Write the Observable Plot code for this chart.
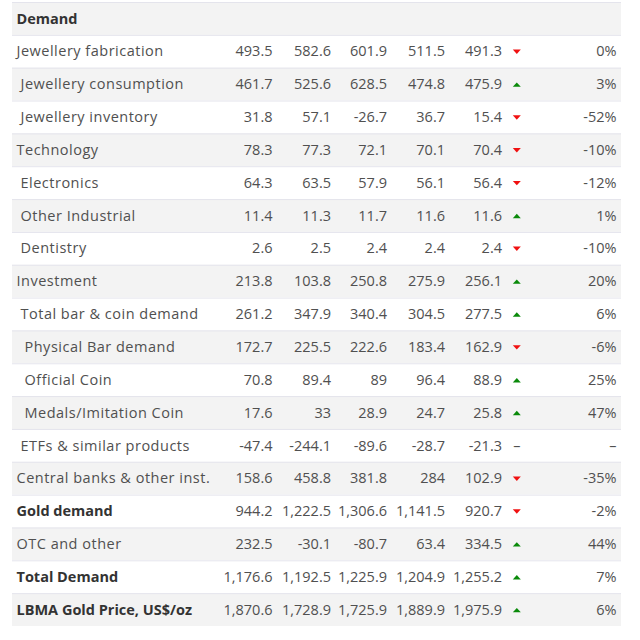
<!DOCTYPE html>
<html><head><meta charset="utf-8">
<script src="https://cdn.jsdelivr.net/npm/d3@7"></script>
<script src="https://cdn.jsdelivr.net/npm/@observablehq/plot@0.6"></script>
<style>body{margin:0;background:#fff;}</style>
</head><body><div id="chart"></div>
<script>
// ---- data ----
const labels = ["Demand","Jewellery fabrication","Jewellery consumption","Jewellery inventory","Technology","Electronics","Other Industrial","Dentistry","Investment","Total bar & coin demand","Physical Bar demand","Official Coin","Medals/Imitation Coin","ETFs & similar products","Central banks & other inst.","Gold demand","OTC and other","Total Demand","LBMA Gold Price, US$/oz"];
const levels = [0,0,1,1,0,1,1,1,0,1,2,2,2,1,0,0,0,0,0];
const isBold = [true,false,false,false,false,false,false,false,false,false,false,false,false,false,false,true,false,true,true];
const col1 = [null,493.5,461.7,31.8,78.3,64.3,11.4,2.6,213.8,261.2,172.7,70.8,17.6,-47.4,158.6,944.2,232.5,1176.6,1870.6];
const col2 = [null,582.6,525.6,57.1,77.3,63.5,11.3,2.5,103.8,347.9,225.5,89.4,33,-244.1,458.8,1222.5,-30.1,1192.5,1728.9];
const col3 = [null,601.9,628.5,-26.7,72.1,57.9,11.7,2.4,250.8,340.4,222.6,89,28.9,-89.6,381.8,1306.6,-80.7,1225.9,1725.9];
const col4 = [null,511.5,474.8,36.7,70.1,56.1,11.6,2.4,275.9,304.5,183.4,96.4,24.7,-28.7,284,1141.5,63.4,1204.9,1889.9];
const col5 = [null,491.3,475.9,15.4,70.4,56.4,11.6,2.4,256.1,277.5,162.9,88.9,25.8,-21.3,102.9,920.7,334.5,1255.2,1975.9];
const change = [null,0,3,-52,-10,-12,1,-10,20,6,-6,25,47,null,-35,-2,44,7,6];
const trend = [null,"down","up","down","down","down","up","down","up","up","down","up","up","flat","down","down","up","up","up"];

// ---- layout ----
const tableLeft = 12, tableRight = 621;
const labelX = 16, indent = 4;
const colRight = [272, 330.5, 386.5, 444.5, 501.5];
const arrowX = 516.3, pctRight = 616;
const font = "'Open Sans', sans-serif";
const textColor = "#505050", boldColor = "#333";

const fmt = d3.formatLocale({decimal:".", thousands:",", grouping:[3], currency:["",""], minus:"-"}).format(",");

const rows = labels.map((label, i) => ({i, label, level: levels[i], bold: isBold[i], change: change[i], trend: trend[i]}));
const cols = [col1, col2, col3, col4, col5];
const cells = [];
cols.forEach((c, j) => c.forEach((v, i) => { if (v != null) cells.push({i, j, v, bold: isBold[i]}); }));

const hw = 4, hh = 2.2;
const upTri = {draw(ctx) { ctx.moveTo(-hw, hh); ctx.lineTo(hw, hh); ctx.lineTo(0, -hh); ctx.closePath(); }};
const downTri = {draw(ctx) { ctx.moveTo(-hw, -hh); ctx.lineTo(hw, -hh); ctx.lineTo(0, hh); ctx.closePath(); }};

const yc = d => d.i + 0.5;
const fs = 14.5;

const chart = Plot.plot({
  width: 640, height: 640, margin: 0,
  style: {fontFamily: font, background: "#fff"},
  x: {domain: [0, 640], range: [0, 640], axis: null},
  y: {domain: [0, 19], range: [2, 626], axis: null},
  color: {type: "identity"},
  marks: [
    Plot.rect(rows, {x1: tableLeft, x2: tableRight, y1: "i", y2: d => d.i + 1, fill: d => d.i % 2 === 0 ? "#f3f3f3" : "#ffffff"}),
    Plot.ruleY(d3.range(19), {y: d => d, x1: tableLeft, x2: tableRight, stroke: "#e4e4ec", strokeWidth: 1}),
    Plot.text(rows.filter(d => !d.bold), {x: d => labelX + indent * d.level, y: yc, text: "label", textAnchor: "start", fontSize: fs, fill: textColor}),
    Plot.text(rows.filter(d => d.bold), {x: d => labelX + indent * d.level, y: yc, text: "label", textAnchor: "start", fontSize: fs, fontWeight: "bold", fill: boldColor}),
    Plot.text(cells, {x: d => colRight[d.j], y: yc, text: d => fmt(d.v), textAnchor: "end", fontSize: fs, fill: textColor}),
    Plot.dot(rows.filter(d => d.trend === "up"), {x: arrowX, y: yc, symbol: upTri, fill: "#0a8a0a", stroke: null}),
    Plot.dot(rows.filter(d => d.trend === "down"), {x: arrowX, y: yc, symbol: downTri, fill: "#f01010", stroke: null}),
    Plot.text(rows.filter(d => d.trend === "flat"), {x: arrowX, y: yc, text: () => "–", fontSize: fs, fill: textColor}),
    Plot.text(rows.filter(d => d.i > 0), {x: pctRight, y: yc, text: d => d.change == null ? "–" : fmt(d.change) + "%", textAnchor: "end", fontSize: fs, fill: textColor})
  ]
});
// widen the regular row labels a little (reference uses a wider geometric font)
const groups = chart.querySelectorAll(":scope > g");
if (groups[2]) groups[2].setAttribute("letter-spacing", "0.5");
document.getElementById("chart").append(chart);
</script>
</body></html>
